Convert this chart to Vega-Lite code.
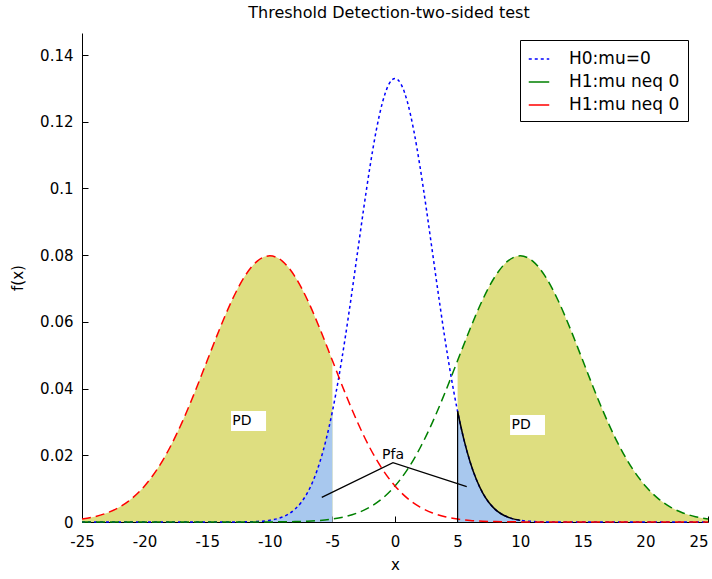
{
  "$schema": "https://vega.github.io/schema/vega-lite/v6.json",
  "width": 626,
  "height": 489,
  "autosize": {"type": "none"},
  "padding": {"left": 82, "top": 33, "right": 4, "bottom": 57},
  "background": "white",
  "title": {"text": "Threshold Detection-two-sided test", "fontSize": 16, "fontWeight": "normal", "font": "DejaVu Sans", "offset": 12, "color": "black", "dx": -6},
  "config": {
    "view": {"stroke": null},
    "axis": {"grid": false, "domainColor": "black", "tickColor": "black", "labelColor": "black", "titleColor": "black", "labelFont": "DejaVu Sans", "titleFont": "DejaVu Sans", "labelFontSize": 15, "titleFontSize": 15, "titleFontWeight": "normal", "tickSize": -6, "domainWidth": 1, "tickWidth": 1, "labelFlush": false, "labelBound": false, "labelOverlap": false}
  },
  "datasets": {
    "curves": [
      {"x": -25, "h0": 0, "h1l": 0.000887, "h1r": 0},
      {"x": -24, "h0": 0, "h1l": 0.00158, "h1r": 0},
      {"x": -23, "h0": 0, "h1l": 0.00272, "h1r": 0},
      {"x": -22, "h0": 0, "h1l": 0.00448, "h1r": 0},
      {"x": -21, "h0": 0, "h1l": 0.00709, "h1r": 0},
      {"x": -20, "h0": 0, "h1l": 0.0108, "h1r": 0},
      {"x": -19, "h0": 0, "h1l": 0.01579, "h1r": 0},
      {"x": -18, "h0": 0, "h1l": 0.02218, "h1r": 0},
      {"x": -17, "h0": 0, "h1l": 0.02995, "h1r": 0},
      {"x": -16, "h0": 0, "h1l": 0.03884, "h1r": 0},
      {"x": -15, "h0": 0, "h1l": 0.04839, "h1r": 0},
      {"x": -14, "h0": 0, "h1l": 0.05794, "h1r": 0},
      {"x": -13, "h0": 0.00001, "h1l": 0.06664, "h1r": 0},
      {"x": -12, "h0": 0.00004, "h1l": 0.07365, "h1r": 0},
      {"x": -11, "h0": 0.00016, "h1l": 0.07821, "h1r": 0.00001},
      {"x": -10, "h0": 0.00051, "h1l": 0.07979, "h1r": 0.00003},
      {"x": -9, "h0": 0.00148, "h1l": 0.07821, "h1r": 0.00006},
      {"x": -8.5, "h0": 0.0024},
      {"x": -8, "h0": 0.0038, "h1l": 0.07365, "h1r": 0.00012},
      {"x": -7.5, "h0": 0.00584},
      {"x": -7, "h0": 0.00874, "h1l": 0.06664, "h1r": 0.00025},
      {"x": -6.5, "h0": 0.01272},
      {"x": -6, "h0": 0.018, "h1l": 0.05794, "h1r": 0.00048},
      {"x": -5.5, "h0": 0.02477},
      {"x": -5, "h0": 0.03316, "h1l": 0.04839, "h1r": 0.00089},
      {"x": -4.5, "h0": 0.04317},
      {"x": -4, "h0": 0.05467, "h1l": 0.03884, "h1r": 0.00158},
      {"x": -3.5, "h0": 0.06733},
      {"x": -3, "h0": 0.08066, "h1l": 0.02995, "h1r": 0.00272},
      {"x": -2.5, "h0": 0.09398},
      {"x": -2, "h0": 0.10648, "h1l": 0.02218, "h1r": 0.00448},
      {"x": -1.5, "h0": 0.11735},
      {"x": -1, "h0": 0.12579, "h1l": 0.01579, "h1r": 0.00709},
      {"x": -0.5, "h0": 0.13115},
      {"x": 0, "h0": 0.13298, "h1l": 0.0108, "h1r": 0.0108},
      {"x": 0.5, "h0": 0.13115},
      {"x": 1, "h0": 0.12579, "h1l": 0.00709, "h1r": 0.01579},
      {"x": 1.5, "h0": 0.11735},
      {"x": 2, "h0": 0.10648, "h1l": 0.00448, "h1r": 0.02218},
      {"x": 2.5, "h0": 0.09398},
      {"x": 3, "h0": 0.08066, "h1l": 0.00272, "h1r": 0.02995},
      {"x": 3.5, "h0": 0.06733},
      {"x": 4, "h0": 0.05467, "h1l": 0.00158, "h1r": 0.03884},
      {"x": 4.5, "h0": 0.04317},
      {"x": 5, "h0": 0.03316, "h1l": 0.00089, "h1r": 0.04839},
      {"x": 5.5, "h0": 0.02477},
      {"x": 6, "h0": 0.018, "h1l": 0.00048, "h1r": 0.05794},
      {"x": 6.5, "h0": 0.01272},
      {"x": 7, "h0": 0.00874, "h1l": 0.00025, "h1r": 0.06664},
      {"x": 7.5, "h0": 0.00584},
      {"x": 8, "h0": 0.0038, "h1l": 0.00012, "h1r": 0.07365},
      {"x": 8.5, "h0": 0.0024},
      {"x": 9, "h0": 0.00148, "h1l": 0.00006, "h1r": 0.07821},
      {"x": 10, "h0": 0.00051, "h1l": 0.00003, "h1r": 0.07979},
      {"x": 11, "h0": 0.00016, "h1l": 0.00001, "h1r": 0.07821},
      {"x": 12, "h0": 0.00004, "h1l": 0, "h1r": 0.07365},
      {"x": 13, "h0": 0.00001, "h1l": 0, "h1r": 0.06664},
      {"x": 14, "h0": 0, "h1l": 0, "h1r": 0.05794},
      {"x": 15, "h0": 0, "h1l": 0, "h1r": 0.04839},
      {"x": 16, "h0": 0, "h1l": 0, "h1r": 0.03884},
      {"x": 17, "h0": 0, "h1l": 0, "h1r": 0.02995},
      {"x": 18, "h0": 0, "h1l": 0, "h1r": 0.02218},
      {"x": 19, "h0": 0, "h1l": 0, "h1r": 0.01579},
      {"x": 20, "h0": 0, "h1l": 0, "h1r": 0.0108},
      {"x": 21, "h0": 0, "h1l": 0, "h1r": 0.00709},
      {"x": 22, "h0": 0, "h1l": 0, "h1r": 0.00448},
      {"x": 23, "h0": 0, "h1l": 0, "h1r": 0.00272},
      {"x": 24, "h0": 0, "h1l": 0, "h1r": 0.00158},
      {"x": 25, "h0": 0, "h1l": 0, "h1r": 0.000887}
    ],
    "pfa": [
      {"px": -5.85, "py": 0.0074, "o": 1},
      {"px": -0.16, "py": 0.0178, "o": 2},
      {"px": 5.73, "py": 0.0106, "o": 3}
    ],
    "boxes": [
      {"x1": -13.1, "x2": -10.3, "y1": 0.0273, "y2": 0.0333},
      {"x1": 9.19, "x2": 11.98, "y1": 0.0261, "y2": 0.0321}
    ],
    "labels": [
      {"tx": -13.0, "ty": 0.0303, "t": "PD"},
      {"tx": 9.3, "ty": 0.0291, "t": "PD"},
      {"tx": -0.16, "ty": 0.0201, "t": "Pfa"}
    ]
  },
  "layer": [
    {
      "data": {"name": "curves"},
      "transform": [{"filter": "datum.x <= -5 && isValid(datum.h1l)"}],
      "mark": {"type": "area", "color": "#dede80", "interpolate": "monotone"},
      "encoding": {
        "x": {"field": "x", "type": "quantitative", "title": "x", "scale": {"domain": [-25, 25], "nice": false}, "axis": {"values": [-25, -20, -15, -10, -5, 0, 5, 10, 15, 20, 25], "labelExpr": "'' + datum.value", "labelPadding": 18, "titlePadding": 8, "labelAlign": {"condition": {"test": "datum.value == 25", "value": "right"}, "value": "center"}}},
        "y": {"field": "h1l", "type": "quantitative", "title": "f(x)", "scale": {"domain": [0, 0.1466], "nice": false}, "axis": {"values": [0, 0.02, 0.04, 0.06, 0.08, 0.1, 0.12, 0.14], "format": ".2~f", "labelPadding": 15, "titlePadding": 14}}
      }
    },
    {
      "data": {"name": "curves"},
      "transform": [{"filter": "datum.x >= 5 && isValid(datum.h1r)"}],
      "mark": {"type": "area", "color": "#dede80", "interpolate": "monotone"},
      "encoding": {
        "x": {"field": "x", "type": "quantitative", "title": "x"},
        "y": {"field": "h1r", "type": "quantitative", "title": "f(x)"}
      }
    },
    {
      "data": {"name": "curves"},
      "transform": [{"filter": "datum.x <= -5"}],
      "mark": {"type": "area", "color": "#a8c8ee", "interpolate": "monotone"},
      "encoding": {
        "x": {"field": "x", "type": "quantitative", "title": "x"},
        "y": {"field": "h0", "type": "quantitative", "title": "f(x)"}
      }
    },
    {
      "data": {"name": "curves"},
      "transform": [{"filter": "datum.x >= 5"}],
      "mark": {"type": "area", "color": "#a8c8ee", "interpolate": "monotone"},
      "encoding": {
        "x": {"field": "x", "type": "quantitative", "title": "x"},
        "y": {"field": "h0", "type": "quantitative", "title": "f(x)"}
      }
    },
    {
      "data": {"name": "curves"},
      "transform": [{"fold": ["h0", "h1r", "h1l"], "as": ["series", "val"]}, {"filter": "isValid(datum.val)"}],
      "mark": {"type": "line", "strokeWidth": 1.5, "interpolate": "monotone"},
      "encoding": {
        "x": {"field": "x", "type": "quantitative", "title": "x"},
        "y": {"field": "val", "type": "quantitative", "title": "f(x)"},
        "color": {"field": "series", "type": "nominal", "scale": {"domain": ["h0", "h1r", "h1l"], "range": ["#0000ff", "#008000", "#ff0000"]},
          "legend": {"title": null, "orient": "none", "legendX": 438, "legendY": 7, "symbolType": "stroke", "symbolSize": 420, "symbolStrokeWidth": 1.5, "labelFont": "DejaVu Sans", "labelFontSize": 17, "labelColor": "black", "labelOffset": 19, "rowPadding": 4, "padding": 8, "strokeColor": "black", "fillColor": "white",
            "labelExpr": "(datum.label === 'h0' ? 'H0:mu=0' : 'H1:mu neq 0') + '\u2003'",
            "encode": {"symbols": {"update": {"strokeDash": {"signal": "datum.value === 'h0' ? [3, 3] : [1, 0]"}}}}}},
        "strokeDash": {"condition": {"test": "datum.series === 'h0'", "value": [3, 3]}, "value": [9, 5]}
      }
    },
    {
      "data": {"name": "curves"},
      "transform": [{"filter": "datum.x >= 5 && datum.x <= 10"}],
      "mark": {"type": "line", "color": "black", "strokeWidth": 1.5, "interpolate": "monotone"},
      "encoding": {
        "x": {"field": "x", "type": "quantitative", "title": "x"},
        "y": {"field": "h0", "type": "quantitative", "title": "f(x)"}
      }
    },
    {
      "data": {"name": "curves"},
      "transform": [{"filter": "datum.x == 5"}],
      "mark": {"type": "rule", "color": "black", "strokeWidth": 1.2},
      "encoding": {
        "x": {"field": "x", "type": "quantitative", "title": "x"},
        "y": {"field": "h0", "type": "quantitative", "title": "f(x)"},
        "y2": {"datum": 0}
      }
    },
    {
      "data": {"name": "pfa"},
      "mark": {"type": "line", "color": "black", "strokeWidth": 1.3},
      "encoding": {
        "x": {"field": "px", "type": "quantitative", "title": "x"},
        "y": {"field": "py", "type": "quantitative", "title": "f(x)"},
        "order": {"field": "o"}
      }
    },
    {
      "data": {"name": "boxes"},
      "mark": {"type": "rect", "fill": "white"},
      "encoding": {
        "x": {"field": "x1", "type": "quantitative", "title": "x"},
        "x2": {"field": "x2"},
        "y": {"field": "y1", "type": "quantitative", "title": "f(x)"},
        "y2": {"field": "y2"}
      }
    },
    {
      "data": {"name": "labels"},
      "transform": [{"filter": "datum.t == 'PD'"}],
      "mark": {"type": "text", "align": "left", "baseline": "middle", "font": "DejaVu Sans", "fontSize": 14, "color": "black"},
      "encoding": {
        "x": {"field": "tx", "type": "quantitative", "title": "x"},
        "y": {"field": "ty", "type": "quantitative", "title": "f(x)"},
        "text": {"field": "t"}
      }
    },
    {
      "data": {"name": "labels"},
      "transform": [{"filter": "datum.t == 'Pfa'"}],
      "mark": {"type": "text", "align": "center", "baseline": "middle", "font": "DejaVu Sans", "fontSize": 14, "color": "black"},
      "encoding": {
        "x": {"field": "tx", "type": "quantitative", "title": "x"},
        "y": {"field": "ty", "type": "quantitative", "title": "f(x)"},
        "text": {"field": "t"}
      }
    }
  ]
}
